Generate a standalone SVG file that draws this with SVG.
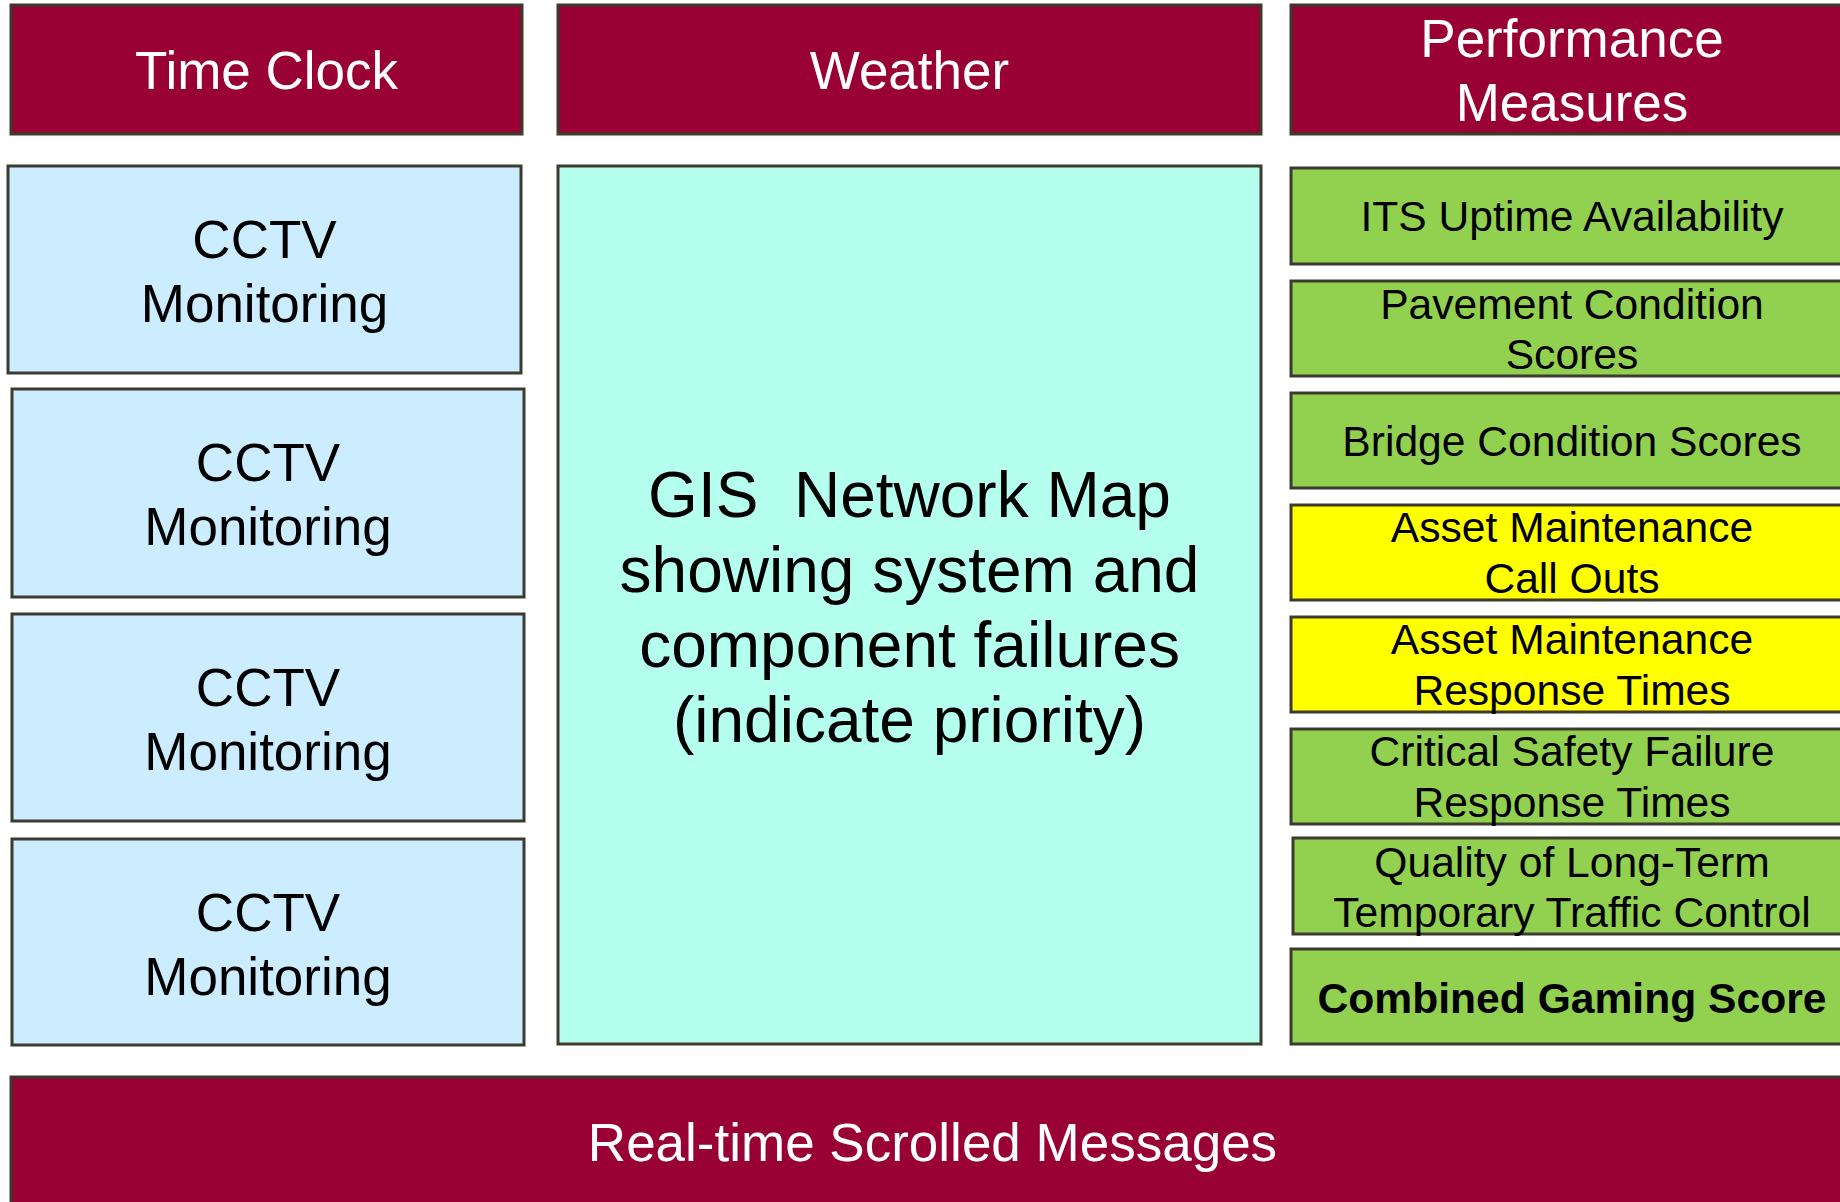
<svg xmlns="http://www.w3.org/2000/svg" width="1840" height="1202" viewBox="0 0 1840 1202">
<style>
rect{stroke:#3d3a2e;stroke-width:3}
.hdr{fill:#990033}
.cctv{fill:#ccecff}
.gis{fill:#b4ffee}
.grn{fill:#92d050}
.yel{fill:#ffff00}
text{font-family:"Liberation Sans",Arial,sans-serif;text-anchor:middle}
.w{fill:#ffffff;font-size:53px}
.b{fill:#000000;font-size:53px}
.g{fill:#000000;font-size:64px;white-space:pre}
.s{fill:#000000;font-size:42.6px}
.bold{font-weight:bold}
</style>
<rect width="1840" height="1202" fill="#ffffff" style="stroke:none"/>
<g id="time-clock"><rect class="hdr" x="11" y="5" width="511" height="129"/><text class="w" x="266.5" y="89">Time Clock</text></g>
<g id="weather"><rect class="hdr" x="558" y="5" width="703" height="129"/><text class="w" x="909.5" y="89">Weather</text></g>
<g id="performance-measures"><rect class="hdr" x="1291" y="5" width="565" height="129"/><text class="w" x="1572" y="57">Performance</text><text class="w" x="1572" y="121">Measures</text></g>
<g id="cctv-1"><rect class="cctv" x="8" y="166" width="513" height="207"/><text class="b" x="264.5" y="258">CCTV</text><text class="b" x="264.5" y="322">Monitoring</text></g>
<g id="cctv-2"><rect class="cctv" x="12" y="389" width="512" height="208"/><text class="b" x="268" y="481">CCTV</text><text class="b" x="268" y="545">Monitoring</text></g>
<g id="cctv-3"><rect class="cctv" x="12" y="614" width="512" height="207"/><text class="b" x="268" y="706">CCTV</text><text class="b" x="268" y="770">Monitoring</text></g>
<g id="cctv-4"><rect class="cctv" x="12" y="839" width="512" height="206"/><text class="b" x="268" y="931">CCTV</text><text class="b" x="268" y="995">Monitoring</text></g>
<g id="gis-map"><rect class="gis" x="558" y="166" width="703" height="878"/>
<text class="g" x="909.5" y="517" xml:space="preserve">GIS  Network Map</text>
<text class="g" x="909.5" y="592">showing system and</text>
<text class="g" x="909.5" y="667">component failures</text>
<text class="g" x="909.5" y="742">(indicate priority)</text></g>
<g id="its-uptime"><rect class="grn" x="1291" y="168" width="565" height="96"/><text class="s" x="1572" y="231">ITS Uptime Availability</text></g>
<g id="pavement"><rect class="grn" x="1291" y="281" width="565" height="95"/><text class="s" x="1572" y="319">Pavement Condition</text><text class="s" x="1572" y="369">Scores</text></g>
<g id="bridge"><rect class="grn" x="1291" y="393" width="565" height="95"/><text class="s" x="1572" y="456">Bridge Condition Scores</text></g>
<g id="call-outs"><rect class="yel" x="1291" y="505" width="565" height="95"/><text class="s" x="1572" y="542">Asset Maintenance</text><text class="s" x="1572" y="593">Call Outs</text></g>
<g id="response-times"><rect class="yel" x="1291" y="617" width="565" height="95"/><text class="s" x="1572" y="654">Asset Maintenance</text><text class="s" x="1572" y="705">Response Times</text></g>
<g id="critical-safety"><rect class="grn" x="1291" y="729" width="565" height="95"/><text class="s" x="1572" y="766">Critical Safety Failure</text><text class="s" x="1572" y="817">Response Times</text></g>
<g id="quality-ttc"><rect class="grn" x="1293" y="838" width="563" height="96"/><text class="s" x="1572" y="877">Quality of Long-Term</text><text class="s" x="1572" y="927">Temporary Traffic Control</text></g>
<g id="combined-score"><rect class="grn" x="1291" y="949" width="565" height="95"/><text class="s bold" x="1572" y="1013">Combined Gaming Score</text></g>
<g id="scrolled-messages"><rect class="hdr" x="11" y="1077" width="1845" height="140"/><text class="w" x="932.5" y="1161">Real-time Scrolled Messages</text></g>
<g id="connectors"></g>
</svg>
